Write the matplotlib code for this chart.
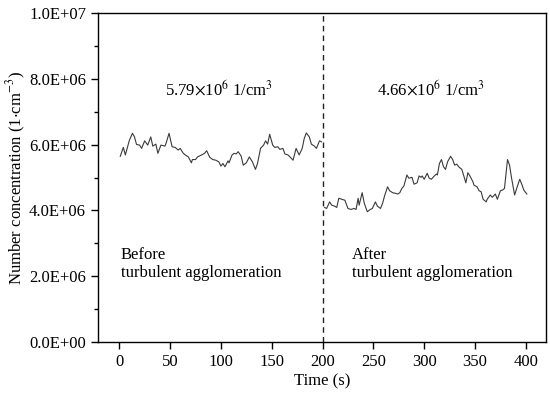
import numpy as np
import matplotlib
matplotlib.use('Agg')
import matplotlib.pyplot as plt
from matplotlib.ticker import FormatStrFormatter, MultipleLocator

plt.rcParams['font.family'] = ['Liberation Serif', 'DejaVu Serif']
plt.rcParams['mathtext.fontset'] = 'stix'

# before agglomeration (time s, concentration 1e6 /cm3)
t_before = [1, 4, 6, 10, 13, 15, 17, 20, 22, 25, 28, 31, 33, 36, 38, 41, 45, 46, 49, 52,
            55, 58, 60, 63, 65, 68, 71, 72, 75, 77, 81, 84, 86, 89, 92, 95, 98, 100, 102, 104,
            107, 108, 111, 113, 115, 117, 120, 122, 125, 128, 131, 134, 136, 139, 142, 144, 146, 148, 151, 153,
            156, 158, 161, 163, 166, 168, 171, 172, 174, 177, 180, 182, 184, 187, 189, 192, 194, 197, 199]
c_before = [5.65, 5.92, 5.69, 6.14, 6.35, 6.24, 6.01, 5.99, 5.89, 6.12, 5.99, 6.24, 5.96, 6.02, 5.74, 5.99, 5.96, 6.04, 6.35, 5.94,
            5.92, 5.84, 5.89, 5.74, 5.69, 5.63, 5.45, 5.55, 5.55, 5.63, 5.69, 5.74, 5.82, 5.62, 5.55, 5.53, 5.48, 5.35, 5.43, 5.33,
            5.51, 5.45, 5.69, 5.74, 5.72, 5.79, 5.65, 5.38, 5.45, 5.63, 5.48, 5.25, 5.43, 5.89, 5.99, 6.12, 6.02, 6.32, 5.99, 5.92,
            5.94, 5.86, 5.89, 5.72, 5.69, 5.63, 5.53, 5.65, 5.89, 5.69, 5.89, 6.19, 6.36, 6.24, 6.02, 5.96, 5.89, 6.12, 6.09]

# after agglomeration
t_after = [202, 204, 207, 209, 212, 214, 216, 219, 222, 225, 228, 231, 233, 235, 236, 239, 241, 244, 247, 249,
           252, 254, 257, 259, 261, 264, 266, 269, 272, 274, 276, 278, 280, 283, 285, 288, 290, 293, 295, 297,
           298, 300, 303, 305, 307, 310, 312, 313, 315, 317, 319, 321, 323, 326, 328, 330, 332, 334, 337, 339,
           341, 343, 345, 348, 349, 352, 354, 356, 358, 361, 362, 365, 367, 370, 372, 375, 377, 379, 382, 384,
           386, 389, 391, 394, 396, 398, 401]
c_after = [4.09, 4.06, 4.26, 4.16, 4.13, 4.09, 4.37, 4.34, 4.31, 4.06, 4.03, 4.06, 4.03, 4.37, 4.16, 4.54, 4.23, 3.96, 4.03, 4.06,
           4.26, 4.13, 4.06, 4.21, 4.44, 4.72, 4.60, 4.54, 4.52, 4.50, 4.54, 4.67, 4.74, 5.08, 4.98, 5.01, 4.80, 4.84, 5.05, 5.01,
           5.05, 4.95, 5.13, 4.98, 4.95, 5.05, 5.11, 5.08, 5.43, 5.55, 5.33, 5.25, 5.48, 5.65, 5.55, 5.38, 5.41, 5.33, 5.25, 5.05,
           4.84, 5.15, 5.05, 4.87, 4.77, 4.72, 4.60, 4.57, 4.34, 4.26, 4.34, 4.47, 4.40, 4.50, 4.34, 4.60, 4.62, 4.67, 5.55, 5.38,
           4.98, 4.47, 4.67, 4.95, 4.80, 4.62, 4.50]

fig = plt.figure(figsize=(5.5, 3.96), dpi=100)
ax = fig.add_axes([0.178, 0.137, 0.815, 0.829])

ax.plot(t_before, np.array(c_before) * 1e6, color='#3a3a3a', lw=0.8)
ax.plot(t_after, np.array(c_after) * 1e6, color='#3a3a3a', lw=0.8)
ax.axvline(200, color='#222222', ls=(0, (4, 3)), lw=1.0)

ax.set_xlim(-21, 420)
ax.set_ylim(0, 1e7)
ax.xaxis.set_major_locator(MultipleLocator(50))
ax.yaxis.set_major_locator(MultipleLocator(2e6))
ax.yaxis.set_minor_locator(MultipleLocator(1e6))
ax.yaxis.set_major_formatter(FormatStrFormatter('%.1E'))
ax.tick_params(axis='both', which='major', direction='out', length=5, width=1, labelsize=12)
ax.tick_params(axis='y', which='minor', direction='out', length=3, width=1)
for s in ax.spines.values():
    s.set_linewidth(1.0)

ax.set_xlabel('Time (s)', fontsize=12, labelpad=3)
ax.set_ylabel('Number concentration (1$\\cdot$cm$^{-3}$)', fontsize=12, labelpad=1)

ax.text(98, 7.7e6, '5.79$\\times$10$^{6}$ 1/cm$^{3}$', fontsize=12, ha='center', va='center')
ax.text(307, 7.7e6, '4.66$\\times$10$^{6}$ 1/cm$^{3}$', fontsize=12, ha='center', va='center')
ax.text(1.5, 2.37e6, 'Before\nturbulent agglomeration', fontsize=12, ha='left', va='center', linespacing=1.1)
ax.text(229, 2.37e6, 'After\nturbulent agglomeration', fontsize=12, ha='left', va='center', linespacing=1.1)

fig.savefig('out.png', dpi=100)
